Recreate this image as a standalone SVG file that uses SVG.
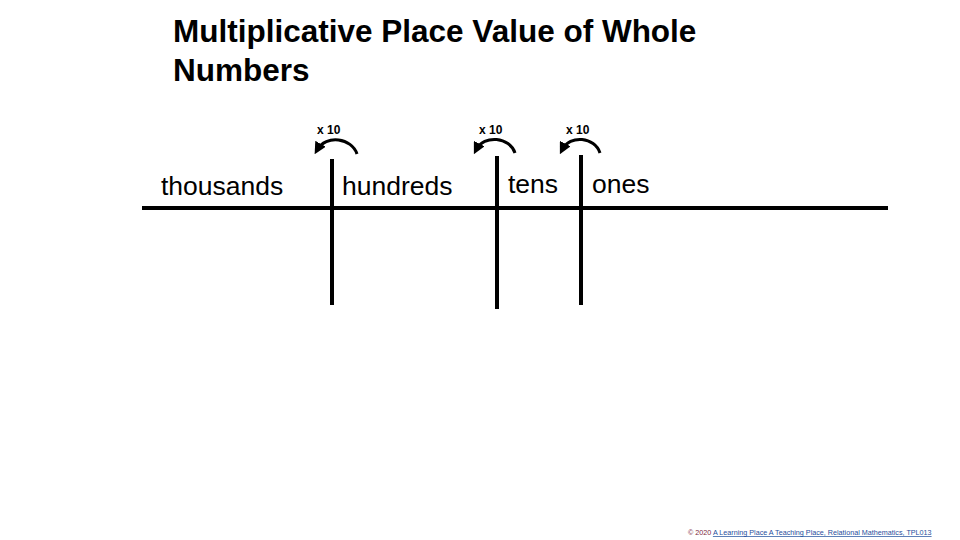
<svg xmlns="http://www.w3.org/2000/svg" width="960" height="540" viewBox="0 0 960 540">
<defs>
<style>
.t{font-family:"Liberation Sans",Arial,sans-serif;fill:#000}
.title{font-size:31.5px;font-weight:bold}
.lbl{font-size:26.5px}
.x{font-size:12px;font-weight:bold}
.ln{stroke:#000;stroke-width:4;fill:none}
.arc{stroke:#000;stroke-width:3;fill:none}
.foot{font-family:"Liberation Sans",Arial,sans-serif;font-size:7.2px}
</style>
<marker id="ah" viewBox="0 0 10 10" refX="6" refY="5" markerWidth="4" markerHeight="4" orient="auto">
<path d="M0,0 L10,5 L0,10 Z" fill="#000"/>
</marker>
</defs>
<rect width="960" height="540" fill="#fff"/>
<g id="title">
<text class="t title" x="173" y="42">Multiplicative Place Value of Whole</text>
<text class="t title" x="173" y="81">Numbers</text>
</g>
<g id="connectors">
<line class="ln" x1="142" y1="208" x2="888" y2="208"/>
<line class="ln" x1="332" y1="159" x2="332" y2="305"/>
<line class="ln" x1="497" y1="156" x2="497" y2="309"/>
<line class="ln" x1="581" y1="155" x2="581" y2="305"/>
<path class="arc" d="M357,154 C352,138 326,134 317,150" marker-end="url(#ah)"/>
<path class="arc" d="M515,153 C510,137 484,134 476,150" marker-end="url(#ah)"/>
<path class="arc" d="M600,153 C595,137 570,134 562,150" marker-end="url(#ah)"/>
</g>
<g id="x10-1"><text class="t x" x="317" y="134">x 10</text></g>
<g id="x10-2"><text class="t x" x="479" y="134">x 10</text></g>
<g id="x10-3"><text class="t x" x="566" y="134">x 10</text></g>
<g id="thousands"><text class="t lbl" x="161" y="195">thousands</text></g>
<g id="hundreds"><text class="t lbl" x="342" y="195">hundreds</text></g>
<g id="tens"><text class="t lbl" x="508" y="193">tens</text></g>
<g id="ones"><text class="t lbl" x="592" y="193">ones</text></g>
<g id="footer">
<text class="foot" x="688" y="535"><tspan fill="#7a1f3d">© 2020 </tspan><tspan fill="#1f4e9c" text-decoration="underline">A Learning Place A Teaching Place, Relational Mathematics, TPL013</tspan></text>
</g>
</svg>
